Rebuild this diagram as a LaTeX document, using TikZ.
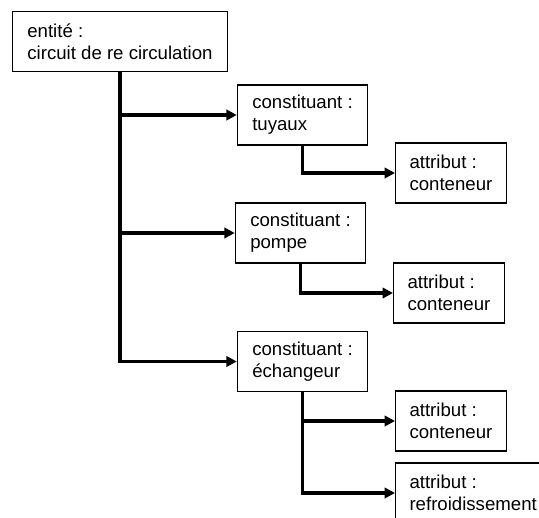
\documentclass[tikz,border=0pt]{standalone}
\usepackage{fontspec}
\setmainfont{Liberation Sans}
\usetikzlibrary{arrows.meta}

\tikzset{
  boite/.style={draw,line width=0.6pt,align=left,inner xsep=0.3cm,inner ysep=0pt,
    minimum height=1.2cm,font=\fontsize{10.6pt}{12.6pt}\selectfont},
  entite/.style={boite},
  constituant/.style={boite},
  attribut/.style={boite,inner xsep=0.28cm,anchor=west},
  lien/.style={line width=2pt},
  fleche/.style={lien,-{Triangle[length=0.21cm,width=0.21cm]}}
}

\begin{document}
\begin{tikzpicture}[x=0.02cm,y=-0.02cm]
    \clip (0,0) rectangle (539,518);
    \node[entite] (ent) at (120,41.5) {entité :\\circuit de re circulation};
    \node[constituant] (tuyaux) at (302.5,115) {constituant :\\tuyaux};
    \node[constituant] (pompe) at (300.5,233) {constituant :\\pompe};
    \node[constituant] (echangeur) at (302.5,361.5) {constituant :\\échangeur};
    \node[attribut] (att1) at (395,173) {attribut :\\conteneur};
    \node[attribut] (att2) at (393,293) {attribut :\\conteneur};
    \node[attribut] (att3) at (395,421) {attribut :\\conteneur};
    \node[attribut] (att4) at (395,493) {attribut :\\refroidissement};
    % tronc principal
    \draw[fleche] (ent.south) |- (echangeur.west);
    \draw[fleche] (ent.south |- tuyaux.west) -- (tuyaux.west);
    \draw[fleche] (ent.south |- pompe.west) -- (pompe.west);
    % attributs
    \draw[fleche] (tuyaux.south) |- (att1.west);
    \draw[fleche] (pompe.south) |- (att2.west);
    \draw[fleche] (echangeur.south) |- (att4.west);
    \draw[fleche] (echangeur.south |- att3.west) -- (att3.west);
\end{tikzpicture}
\end{document}
